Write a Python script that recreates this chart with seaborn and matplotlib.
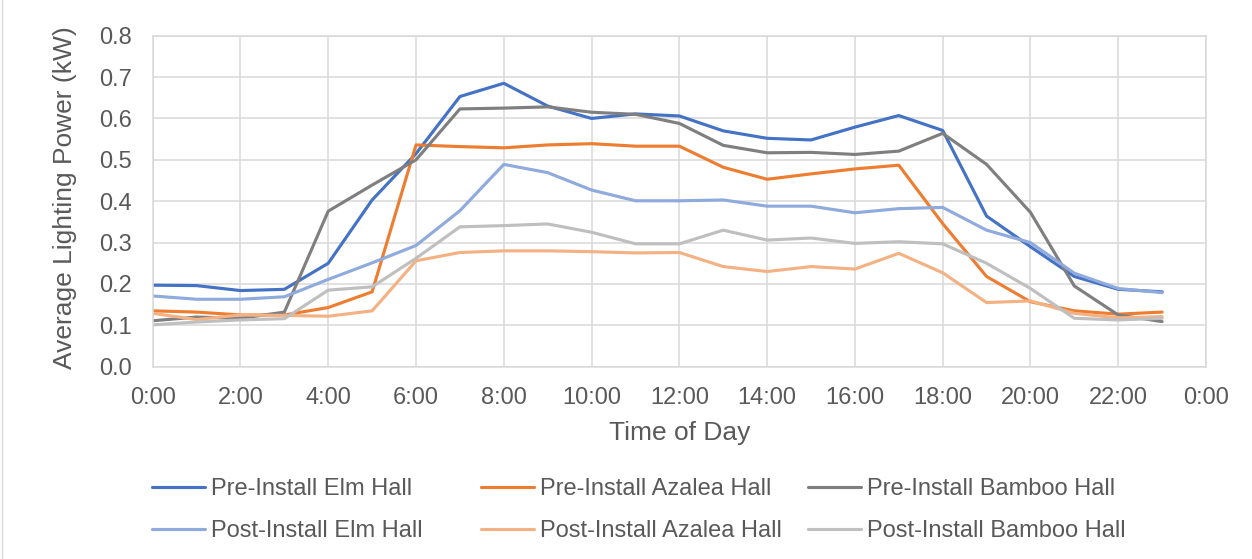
import matplotlib
matplotlib.use("Agg")
import matplotlib.pyplot as plt
import seaborn as sns
import pandas as pd
from matplotlib.lines import Line2D

hours = list(range(24))
tick_hours = list(range(0, 25, 2))
tick_labels = ["0:00", "2:00", "4:00", "6:00", "8:00", "10:00", "12:00",
               "14:00", "16:00", "18:00", "20:00", "22:00", "0:00"]

pre_elm = [0.197, 0.196, 0.184, 0.187, 0.250, 0.403, 0.515, 0.653, 0.685, 0.630, 0.600, 0.611,
           0.606, 0.570, 0.552, 0.548, 0.579, 0.607, 0.571, 0.364, 0.290, 0.218, 0.187, 0.181]
pre_azalea = [0.135, 0.132, 0.125, 0.125, 0.143, 0.181, 0.536, 0.532, 0.529, 0.536, 0.539, 0.533,
              0.533, 0.482, 0.453, 0.466, 0.478, 0.487, 0.346, 0.218, 0.157, 0.135, 0.127, 0.132]
pre_bamboo = [0.111, 0.120, 0.117, 0.132, 0.376, 0.439, 0.500, 0.623, 0.625, 0.628, 0.615, 0.610,
              0.588, 0.535, 0.517, 0.518, 0.513, 0.521, 0.564, 0.489, 0.373, 0.195, 0.125, 0.109]
post_elm = [0.171, 0.163, 0.163, 0.169, 0.211, 0.251, 0.293, 0.377, 0.489, 0.469, 0.427, 0.401,
            0.401, 0.403, 0.388, 0.388, 0.372, 0.382, 0.385, 0.330, 0.300, 0.226, 0.189, 0.179]
post_azalea = [0.129, 0.114, 0.125, 0.124, 0.122, 0.135, 0.256, 0.276, 0.280, 0.280, 0.278, 0.275,
               0.276, 0.242, 0.230, 0.242, 0.236, 0.274, 0.227, 0.155, 0.159, 0.129, 0.118, 0.121]
post_bamboo = [0.101, 0.108, 0.113, 0.116, 0.185, 0.193, 0.262, 0.338, 0.341, 0.345, 0.325, 0.297,
               0.297, 0.330, 0.306, 0.311, 0.298, 0.302, 0.297, 0.250, 0.189, 0.117, 0.113, 0.117]

series_names = ["Pre-Install Elm Hall", "Pre-Install Azalea Hall", "Pre-Install Bamboo Hall",
                "Post-Install Elm Hall", "Post-Install Azalea Hall", "Post-Install Bamboo Hall"]
series_values = [pre_elm, pre_azalea, pre_bamboo, post_elm, post_azalea, post_bamboo]
colors = ["#4472C4", "#ED7D31", "#7F7F7F", "#8FAADC", "#F4B183", "#BFBFBF"]

rows = []
for name, vals in zip(series_names, series_values):
    for h, v in zip(hours, vals):
        rows.append({"hour": h, "power": v, "series": name})
df = pd.DataFrame(rows)

sns.set_style("white")
plt.rcParams["font.family"] = ["Liberation Sans", "DejaVu Sans"]

TXT = "#595959"
GRID = "#D9D9D9"
TICK_FS = 17
TITLE_FS = 19

fig = plt.figure(figsize=(12.52, 5.59), dpi=100)
ax = fig.add_axes([152.7 / 1252, 1 - 366.7 / 559, (1206 - 152.7) / 1252, (366.7 - 35.7) / 559])

sns.lineplot(data=df, x="hour", y="power", hue="series", hue_order=series_names,
             palette=dict(zip(series_names, colors)), linewidth=2.25, ax=ax, legend=False)

ax.set_xlim(0, 24)
ax.set_ylim(0, 0.8)
ax.set_xticks(tick_hours)
ax.set_xticklabels(tick_labels)
ax.set_yticks([i / 10 for i in range(9)])
ax.set_yticklabels([f"{i / 10:.1f}" for i in range(9)])
ax.tick_params(axis="both", length=0, labelsize=TICK_FS, colors=TXT)
ax.tick_params(axis="y", pad=15)
ax.tick_params(axis="x", pad=14.5)
ax.grid(True, color=GRID, linewidth=1.1)
ax.set_axisbelow(True)
for s in ax.spines.values():
    s.set_color(GRID)
    s.set_linewidth(1.1)

ax.set_xlabel("Time of Day", fontsize=TITLE_FS, color=TXT)
ax.set_ylabel("Average Lighting Power (kW)", fontsize=TITLE_FS, color=TXT)
ax.xaxis.set_label_coords(0.5, (366.7 - 433) / 331)
ax.xaxis.label.set_va("center")
ax.yaxis.set_label_coords((65 - 152.7) / 1053.3, 0.51)
ax.yaxis.label.set_va("center")

# legend in three columns
col_x = [152, 481, 808]
for c in range(3):
    idx = [c, c + 3]
    handles = [Line2D([], [], color=colors[i], linewidth=2.25) for i in idx]
    labels = [series_names[i] for i in idx]
    fig.legend(handles, labels, loc="center left",
               bbox_to_anchor=(col_x[c] / 1252, 1 - 510 / 559),
               frameon=False, fontsize=TICK_FS, handlelength=2.25, handletextpad=0.23,
               labelspacing=0.85, borderpad=0, borderaxespad=0, labelcolor=TXT)

fig.add_artist(Line2D([2 / 1252, 2 / 1252], [0, 1], color=GRID, linewidth=1.0,
                      transform=fig.transFigure))

fig.savefig("out.png", dpi=100)
